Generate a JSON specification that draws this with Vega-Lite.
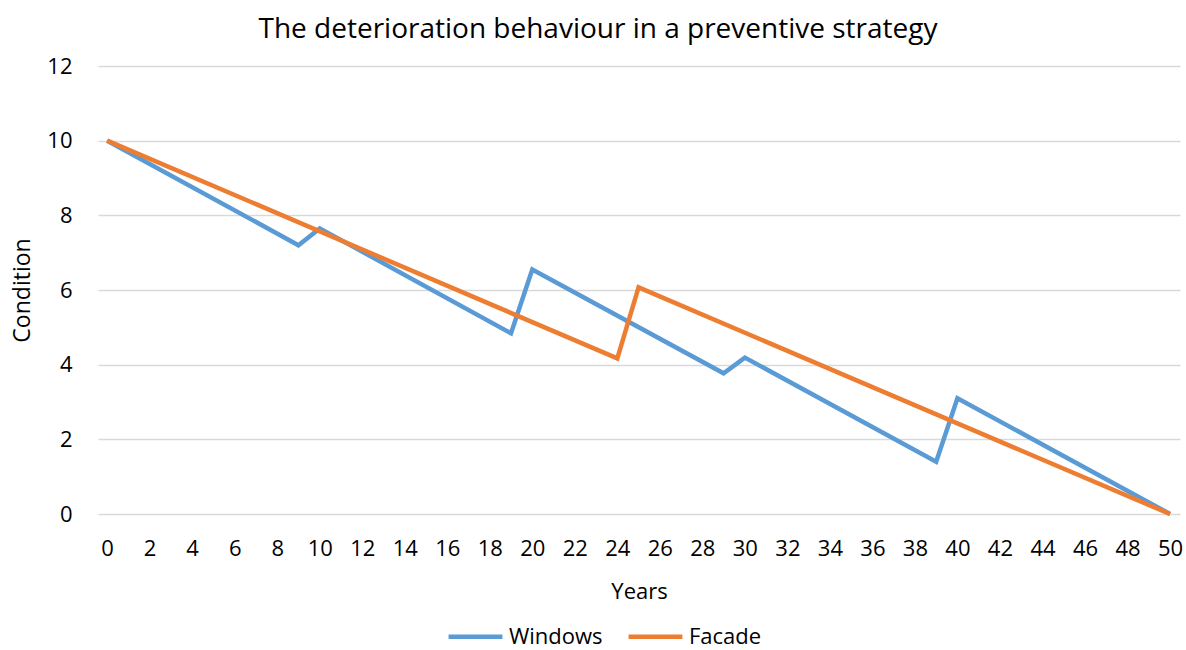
{
  "$schema": "https://vega.github.io/schema/vega-lite/v6.json",
  "autosize": "none",
  "width": 1082,
  "height": 448,
  "padding": {"left": 98, "top": 66, "right": 6, "bottom": 136},
  "background": "white",
  "view": {"stroke": null},
  "title": {
    "text": "The deterioration behaviour in a preventive strategy",
    "anchor": "middle",
    "font": "Open Sans",
    "fontSize": 28,
    "fontWeight": "normal",
    "color": "#000000",
    "offset": 11,
    "dx": -41
  },
  "data": {
    "values": [
      {"year": 0, "condition": 10, "series": "Windows"},
      {"year": 9, "condition": 7.2, "series": "Windows"},
      {"year": 10, "condition": 7.65, "series": "Windows"},
      {"year": 19, "condition": 4.84, "series": "Windows"},
      {"year": 20, "condition": 6.55, "series": "Windows"},
      {"year": 29, "condition": 3.77, "series": "Windows"},
      {"year": 30, "condition": 4.19, "series": "Windows"},
      {"year": 39, "condition": 1.4, "series": "Windows"},
      {"year": 40, "condition": 3.1, "series": "Windows"},
      {"year": 50, "condition": 0, "series": "Windows"},
      {"year": 0, "condition": 10, "series": "Facade"},
      {"year": 24, "condition": 4.17, "series": "Facade"},
      {"year": 25, "condition": 6.07, "series": "Facade"},
      {"year": 50, "condition": 0, "series": "Facade"}
    ]
  },
  "mark": {"type": "line", "strokeWidth": 4.5, "strokeJoin": "miter"},
  "encoding": {
    "x": {
      "field": "year",
      "type": "quantitative",
      "scale": {"domain": [-0.43, 50.47], "nice": false, "zero": false},
      "axis": {
        "title": "Years",
        "values": [0,2,4,6,8,10,12,14,16,18,20,22,24,26,28,30,32,34,36,38,40,42,44,46,48,50],
        "grid": false,
        "domain": false,
        "ticks": false,
        "labelFont": "Open Sans",
        "labelFontSize": 22,
        "labelColor": "#000000",
        "labelPadding": 24,
        "labelFlush": false,
        "labelOverlap": false,
        "titleFont": "Open Sans",
        "titleFontSize": 22,
        "titleFontWeight": "normal",
        "titleColor": "#000000",
        "titlePadding": 22
      }
    },
    "y": {
      "field": "condition",
      "type": "quantitative",
      "scale": {"domain": [0, 12], "nice": false},
      "axis": {
        "title": "Condition",
        "values": [0, 2, 4, 6, 8, 10, 12],
        "grid": true,
        "gridColor": "#D9D9D9",
        "gridWidth": 1.5,
        "domain": false,
        "ticks": false,
        "labelFont": "Open Sans",
        "labelFontSize": 22,
        "labelColor": "#000000",
        "labelPadding": 26,
        "titleFont": "Open Sans",
        "titleFontSize": 23,
        "titleFontWeight": "normal",
        "titleColor": "#000000",
        "titlePadding": 12
      }
    },
    "color": {
      "field": "series",
      "type": "nominal",
      "scale": {"domain": ["Windows", "Facade"], "range": ["#5B9BD5", "#ED7D31"]},
      "legend": {
        "title": null,
        "orient": "none",
        "legendX": 348,
        "legendY": 541,
        "direction": "horizontal",
        "symbolType": "stroke",
        "symbolSize": 2900,
        "symbolStrokeWidth": 4.5,
        "labelFont": "Open Sans",
        "labelFontSize": 22,
        "labelColor": "#000000",
        "labelOffset": 4,
        "columnPadding": 16
      }
    }
  }
}
